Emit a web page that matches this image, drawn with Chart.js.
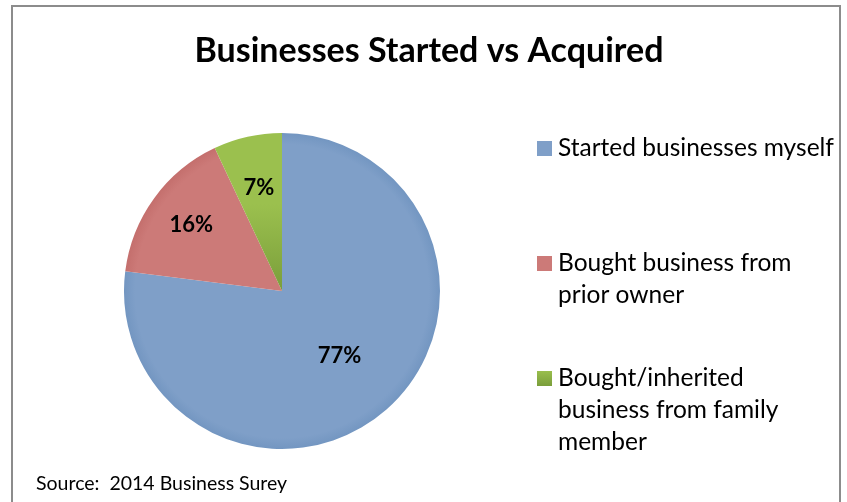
<!DOCTYPE html>
<html>
<head>
<meta charset="utf-8">
<script src="https://cdn.jsdelivr.net/npm/chart.js@4.4.0/dist/chart.umd.min.js"></script>
<style>
  html, body { margin: 0; padding: 0; background: #fff; }
  #wrap { position: relative; width: 847px; height: 502px; }
  #frame { position: absolute; left: 11px; top: 5px; width: 830px; height: 510px; border: 2px solid #8c8c8c; box-sizing: border-box; }
</style>
</head>
<body>
<div id="wrap">
  <div id="frame"></div>
  <canvas id="chart_pie" width="847" height="502"></canvas>
</div>
<script>
var pie_title = 'Businesses Started vs Acquired';
var pie_source = 'Source:  2014 Business Surey';
// etichetele legendei, pe randuri, cum apar in poza
var pie_labels = [
    ['Started businesses myself'],
    ['Bought business from', 'prior owner'],
    ['Bought/inherited', 'business from family', 'member']
];
var pie_values = [77, 16, 7];
var pie_colors = ['#7f9fc8', '#cc7a78', '#9bc04e'];
var pie_colors_dark = ['#7396c1', '#c46f6d', '#7a9e3b'];

var fontFam = 'Lato, "Open Sans", sans-serif';

// gradient pe fiecare felie, ca in Excel
function sliceColor(context) {
    var chart = context.chart;
    var area = chart.chartArea;
    if (!area) return pie_colors[context.dataIndex];
    var ctx = chart.ctx;
    var i = context.dataIndex;
    var cx = (area.left + area.right) / 2;
    var cy = (area.top + area.bottom) / 2;
    if (i == 2) {
        var g = ctx.createLinearGradient(0, area.top, 0, cy);
        g.addColorStop(0, pie_colors[i]);
        g.addColorStop(0.45, pie_colors[i]);
        g.addColorStop(1, pie_colors_dark[i]);
        return g;
    }
    var r = (area.right - area.left) / 2;
    var rg = ctx.createRadialGradient(cx, cy, 0, cx, cy, r);
    rg.addColorStop(0, pie_colors[i]);
    rg.addColorStop(0.93, pie_colors[i]);
    rg.addColorStop(1, pie_colors_dark[i]);
    return rg;
}

var labelRadius = [0.55, 0.71, 0.67];

var decorPlugin = {
    id: 'decor',
    afterDatasetsDraw: function (chart) {
        var ctx = chart.ctx;
        var meta = chart.getDatasetMeta(0);
        ctx.save();
        // procentele pe felii
        ctx.fillStyle = '#000';
        ctx.font = 'bold 22px ' + fontFam;
        ctx.textAlign = 'center';
        ctx.textBaseline = 'middle';
        meta.data.forEach(function (arc, i) {
            var p = arc.getProps(['x', 'y', 'startAngle', 'endAngle', 'outerRadius']);
            var mid = (p.startAngle + p.endAngle) / 2;
            var rr = p.outerRadius * labelRadius[i];
            ctx.fillText(pie_values[i] + '%', p.x + Math.cos(mid) * rr, p.y + Math.sin(mid) * rr);
        });

        // titlu
        ctx.font = 'bold 34px ' + fontFam;
        ctx.fillText(pie_title, 429, 51);

        // legenda
        ctx.textAlign = 'left';
        ctx.font = '24.5px ' + fontFam;
        var tops = [148, 263, 378];
        for (var i = 0; i < pie_labels.length; ++i) {
            if (i == 2) {
                var g = ctx.createLinearGradient(0, tops[i] - 8, 0, tops[i] + 8);
                g.addColorStop(0, pie_colors[2]);
                g.addColorStop(1, pie_colors_dark[2]);
                ctx.fillStyle = g;
            } else {
                ctx.fillStyle = pie_colors[i];
            }
            ctx.fillRect(537, tops[i] - 7, 15, 15);
            ctx.fillStyle = '#000';
            for (var j = 0; j < pie_labels[i].length; ++j) {
                ctx.fillText(pie_labels[i][j], 558, tops[i] + j * 32);
            }
        }

        // sursa
        ctx.font = '19.5px ' + fontFam;
        ctx.fillText(pie_source, 36, 484);
        ctx.restore();
    }
};

var pie_ctx = document.getElementById('chart_pie').getContext('2d');
var pie_config = {
    type: 'pie',
    data: {
        labels: pie_labels,
        datasets: [{
            data: pie_values,
            backgroundColor: sliceColor,
            borderWidth: 0
        }]
    },
    options: {
        responsive: false,
        animation: false,
        layout: {
            padding: { left: 124, right: 407, top: 133, bottom: 53 }
        },
        plugins: {
            legend: { display: false },
            title: { display: false },
            tooltip: { enabled: false }
        }
    },
    plugins: [decorPlugin]
};
var pie_chart = new Chart(pie_ctx, pie_config);
</script>
</body>
</html>
